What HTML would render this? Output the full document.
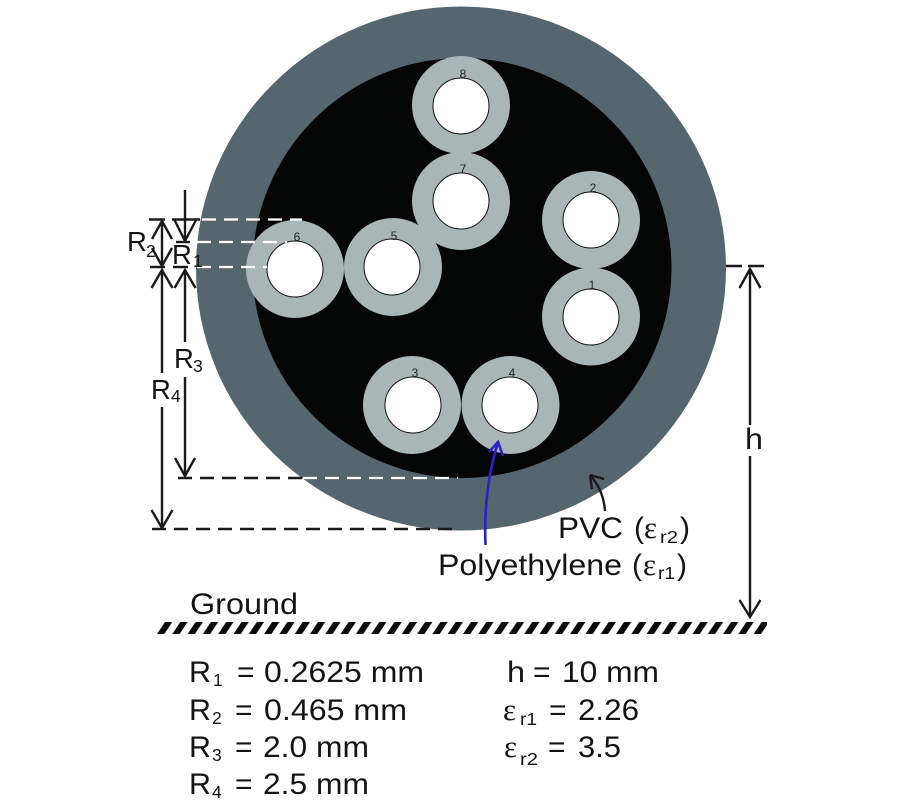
<!DOCTYPE html>
<html><head><meta charset="utf-8"><style>
html,body{margin:0;padding:0;background:#fff}
svg{display:block}
text{font-family:"Liberation Sans",sans-serif;font-size:30px;fill:#141414}
.n{font-size:12px;text-anchor:middle;fill:#222}
.s{font-size:17.500px}
.l{font-size:27.500px}
.e{font-family:"Liberation Serif",serif;font-size:31px}
</style></head><body>
<svg width="900" height="800" viewBox="0 0 900 800" xmlns="http://www.w3.org/2000/svg">
<defs>
<pattern id="hatch" x="157" y="622" width="15.3" height="12" patternUnits="userSpaceOnUse">
<polygon points="8,0 15.3,0 7.3,12 0,12" fill="#0a0a0a"/>
</pattern>
</defs>
<rect width="900" height="800" fill="#fff"/>
<ellipse cx="461" cy="268.500" rx="265" ry="262" fill="#56666e"/>
<ellipse cx="462" cy="268" rx="209.500" ry="210" fill="#030605"/>
<g fill="#a8b6b6">
<circle cx="461" cy="105" r="49"/><circle cx="461" cy="201" r="49"/>
<circle cx="591" cy="220" r="49"/><circle cx="591" cy="316.500" r="49"/>
<circle cx="295" cy="269" r="49"/><circle cx="393" cy="267" r="49"/>
<circle cx="412" cy="405" r="49"/><circle cx="510.500" cy="405" r="49"/>
</g>
<g fill="#fff" stroke="#111" stroke-width="1">
<circle cx="461" cy="106" r="28"/><circle cx="461" cy="201" r="28"/>
<circle cx="591" cy="220" r="28"/><circle cx="591" cy="317" r="28"/>
<circle cx="295" cy="269" r="28"/><circle cx="392" cy="267" r="28"/>
<circle cx="413" cy="405" r="28"/><circle cx="510" cy="405" r="28"/>
</g>
<g>
<text class="n" x="463" y="78">8</text><text class="n" x="463" y="173">7</text>
<text class="n" x="593" y="192">2</text><text class="n" x="592" y="289">1</text>
<text class="n" x="297" y="241">6</text><text class="n" x="394" y="240">5</text>
<text class="n" x="415" y="377">3</text><text class="n" x="512" y="377">4</text>
</g>
<g fill="none" stroke="#fff" stroke-width="2.200" stroke-dasharray="14 8">
<path d="M202 219.500H302"/><path d="M197 242H287"/><path d="M197 267H267"/>
<path d="M303 478H458"/>
</g>
<g fill="none" stroke="#1a1a1a" stroke-width="2.400">
<path d="M149 219.500H165M172 219.500H200"/>
<path d="M176 242H190"/>
<path d="M150 267H165M173 267H188"/>
<path d="M178 478H303" stroke-dasharray="14 8"/>
<path d="M152 529H458" stroke-dasharray="14 8"/>
<path d="M726 266H742M748 266H764"/>
<path d="M185 190V240M174.500 220L185 241L196 220"/>
<path d="M162 221V265M152 239L162 221L172 239M152 248L162 266L172 248"/>
<path d="M162 270V373M162 407V528M151.500 288L162 270L172.500 288M151.500 510L162 528L172.500 510"/>
<path d="M185 270V342M185 377V476M174.500 288L185 270L195.500 288M175 458L185 476L195 458"/>
<path d="M750 269V425M739.500 288L750 269L760.500 288"/>
<path d="M750 456V617M739.500 600L750 617L760.500 600"/>
<path d="M605 511C604 496 598 484 590 475M590 475L604 479M590 475L592 489"/>
</g>
<g fill="none" stroke="#2a22c8" stroke-width="2.600">
<path d="M485.500 545C484 510 488 475 498 442M489 452L498 442L503 456"/>
</g>
<rect x="157" y="622" width="610" height="12" fill="url(#hatch)"/>

<text class="l" x="127" y="251">R</text><text class="s" x="146" y="257">2</text>
<text class="l" x="172" y="264">R</text><text class="s" x="193" y="267">1</text>
<text class="l" x="174" y="368">R</text><text class="s" x="193" y="372">3</text>
<text class="l" x="151" y="399">R</text><text class="s" x="171" y="402">4</text>
<text x="745" y="449" textLength="18" lengthAdjust="spacingAndGlyphs">h</text>

<text x="558" y="538" textLength="65" lengthAdjust="spacingAndGlyphs">PVC</text>
<text x="634" y="538">(</text><text class="e" x="644" y="538">ε</text><text class="s" x="660" y="543" textLength="18" lengthAdjust="spacingAndGlyphs">r2</text><text x="680" y="538">)</text>
<text x="438" y="575" textLength="184" lengthAdjust="spacingAndGlyphs">Polyethylene</text>
<text x="632" y="575">(</text><text class="e" x="643" y="575">ε</text><text class="s" x="658" y="579" textLength="17" lengthAdjust="spacingAndGlyphs">r1</text><text x="677" y="575">)</text>
<text x="190" y="614" textLength="108" lengthAdjust="spacingAndGlyphs">Ground</text>

<text x="189" y="682" textLength="22" lengthAdjust="spacingAndGlyphs">R</text><text class="s" x="213" y="686">1</text><text x="237" y="682">=</text><text x="264" y="682" textLength="160" lengthAdjust="spacingAndGlyphs">0.2625 mm</text>
<text x="189" y="720" textLength="22" lengthAdjust="spacingAndGlyphs">R</text><text class="s" x="212" y="724">2</text><text x="235" y="720">=</text><text x="264" y="720" textLength="143" lengthAdjust="spacingAndGlyphs">0.465 mm</text>
<text x="189" y="757" textLength="22" lengthAdjust="spacingAndGlyphs">R</text><text class="s" x="212" y="761">3</text><text x="235" y="757">=</text><text x="263" y="757" textLength="106" lengthAdjust="spacingAndGlyphs">2.0 mm</text>
<text x="189" y="794" textLength="22" lengthAdjust="spacingAndGlyphs">R</text><text class="s" x="212" y="798">4</text><text x="235" y="794">=</text><text x="263" y="794" textLength="106" lengthAdjust="spacingAndGlyphs">2.5 mm</text>

<text x="507" y="682" textLength="18" lengthAdjust="spacingAndGlyphs">h</text><text x="533" y="682">=</text><text x="562" y="682" textLength="97" lengthAdjust="spacingAndGlyphs">10 mm</text>
<text class="e" x="503" y="720">ε</text><text class="s" x="520" y="725" textLength="17" lengthAdjust="spacingAndGlyphs">r1</text><text x="549" y="720">=</text><text x="578" y="720" textLength="61" lengthAdjust="spacingAndGlyphs">2.26</text>
<text class="e" x="504" y="757">ε</text><text class="s" x="520" y="765" textLength="18" lengthAdjust="spacingAndGlyphs">r2</text><text x="548" y="757">=</text><text x="578" y="757" textLength="43" lengthAdjust="spacingAndGlyphs">3.5</text>
</svg>
</body></html>
